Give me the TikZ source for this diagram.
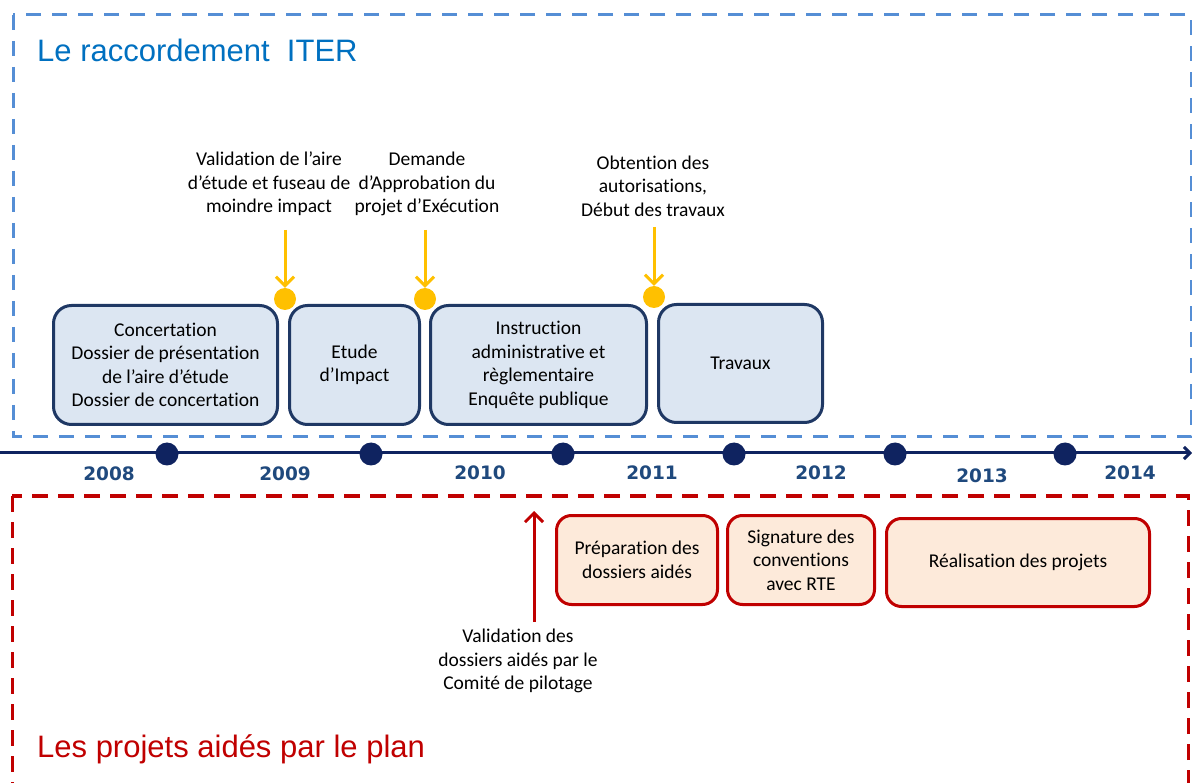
\documentclass[tikz,border=0pt]{standalone}
\usepackage{fontspec}
\setmainfont[Ligatures=CommonOff]{Carlito}
\newfontfamily\titrefont{Liberation Sans}
\newfontfamily\anneefont{DejaVu Sans}
\usepackage{tikz}
\usetikzlibrary{positioning,arrows.meta}
\definecolor{cadrebleu}{HTML}{558ED5}
\definecolor{titrebleu}{HTML}{0070C0}
\definecolor{marine}{HTML}{0F2360}
\definecolor{bordbleu}{HTML}{1F3864}
\definecolor{fondbleu}{HTML}{DCE6F2}
\definecolor{anneebleu}{HTML}{1F497D}
\definecolor{jaune}{HTML}{FFC000}
\definecolor{rouge}{HTML}{C00000}
\definecolor{fondrouge}{HTML}{FDEADA}
\tikzstyle{texte} = [align=center, inner sep=0pt, font=\fontsize{19.5}{23.5}\selectfont]
\tikzstyle{phase} = [texte, draw=bordbleu, fill=fondbleu, line width=3pt, rounded corners=18pt]
\tikzstyle{aide} = [texte, draw=rouge, fill=fondrouge, line width=3pt, rounded corners=15pt]

\begin{document}
\begin{tikzpicture}[x=1pt,y=-1pt,node distance=9pt]
    \tikzstyle{jalon} = [circle, fill=jaune, minimum size=22pt, inner sep=0pt]
    \tikzstyle{point} = [circle, fill=marine, minimum size=23pt, inner sep=0pt]
    \tikzstyle{annee} = [inner sep=0pt, text=anneebleu, font=\anneefont\bfseries\fontsize{18.5}{20}\selectfont]
    \tikzstyle{titre} = [inner sep=0pt, anchor=base west, font=\titrefont\fontsize{31}{36}\selectfont]
    \tikzstyle{fleche} = [line width=3pt, -{Straight Barb[length=9pt,width=18pt]}]
    \useasboundingbox (0,0) rectangle (1192,783);
    % cadres
    \draw[cadrebleu, line width=3pt, dash pattern=on 15pt off 11pt] (13,15) rectangle (1191,437);
    \draw[rouge, line width=3pt, dash pattern=on 16pt off 10pt] (12,496) rectangle (1188,820);
    \node[titre, text=titrebleu] (titre1) at (37,62) {Le raccordement\ \ ITER};
    \node[titre, text=rouge] (titre2) at (37,757) {Les projets aidés par le plan};
    % frise
    \coordinate (debut) at (0,453);
    \coordinate (fin) at (1192,453);
    \draw[marine, line width=3pt, -{Straight Barb[length=6pt,width=12pt]}] (debut) -- (fin);
    \node[point] (p1) at (167,454) {};
    \node[point] (p2) at (371,454) {};
    \node[point] (p3) at (563,454) {};
    \node[point] (p4) at (734,454) {};
    \node[point] (p5) at (895,454) {};
    \node[point] (p6) at (1065,454) {};
    \node[annee] (a2008) at (109,474) {2008};
    \node[annee] (a2009) at (285,474) {2009};
    \node[annee] (a2010) at (480,473) {2010};
    \node[annee] (a2011) at (652,473) {2011};
    \node[annee] (a2012) at (821,473) {2012};
    \node[annee] (a2013) at (982,476) {2013};
    \node[annee] (a2014) at (1130,473) {2014};
    % etapes du raccordement
    \node[phase, minimum width=224pt, minimum height=119pt] (etape1) at (165.5,365)
        {Concertation\\Dossier de présentation\\de l’aire d’étude\\Dossier de concertation};
    \node[phase, minimum width=130pt, minimum height=119pt] (etape2) [right = of etape1] {Etude\\d’Impact};
    \node[phase, minimum width=216pt, minimum height=119pt] (etape3) [right = 8pt of etape2]
        {Instruction\\administrative et\\règlementaire\\Enquête publique};
    \node[phase, minimum width=164pt, minimum height=118pt] (etape4) at (740.5,363.5) {Travaux};
    % jalons
    \node[jalon] (j1) at (285,299) {};
    \node[jalon] (j2) at (425,299) {};
    \node[jalon] (j3) at (654,297) {};
    \node[texte] (n1) at (269,184) {Validation de l’aire\\d’étude et fuseau de\\moindre impact};
    \node[texte] (n2) at (427,184) {Demande\\d’Approbation du\\projet d’Exécution};
    \node[texte] (n3) at (653,186) {Obtention des\\autorisations,\\Début des travaux};
    \coordinate (f1) at (285,230);
    \coordinate (f2) at (425,230);
    \coordinate (f3) at (654,227);
    \draw[fleche, jaune] (f1) -- (j1.north);
    \draw[fleche, jaune] (f2) -- (j2.north);
    \draw[fleche, jaune] (f3) -- (j3.north);
    % projets aides
    \node[aide, minimum width=161pt, minimum height=89pt] (aide1) at (637,560) {Préparation des\\dossiers aidés};
    \node[aide, minimum width=147pt, minimum height=89pt] (aide2) [right = 7pt of aide1] {Signature des\\conventions\\avec RTE};
    \node[aide, minimum width=263pt, minimum height=88pt] (aide3) at (1018,562.5) {Réalisation des projets};
    \node[texte] (n4) at (518,661) {Validation des\\dossiers aidés par le\\Comité de pilotage};
    \coordinate (vbas) at (534,622);
    \coordinate (vhaut) at (534,511);
    \draw[fleche, rouge] (vbas) -- (vhaut);
\end{tikzpicture}
\end{document}
